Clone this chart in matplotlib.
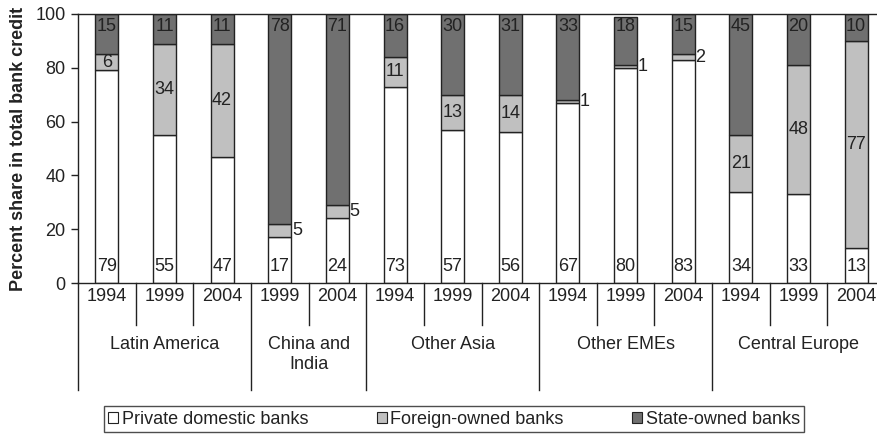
import matplotlib
matplotlib.use('Agg')
import matplotlib.pyplot as plt
import matplotlib.transforms as mtransforms
from matplotlib.patches import Patch
import numpy as np

plt.rcParams['font.family'] = ['Liberation Sans', 'DejaVu Sans']

groups = ['Latin America', 'China and\nIndia', 'Other Asia', 'Other EMEs', 'Central Europe']
group_sizes = [3, 2, 3, 3, 3]
years = ['1994', '1999', '2004', '1999', '2004', '1994', '1999', '2004',
         '1994', '1999', '2004', '1994', '1999', '2004']
private = [79, 55, 47, 17, 24, 73, 57, 56, 67, 80, 83, 34, 33, 13]
foreign = [6, 34, 42, 5, 5, 11, 13, 14, 1, 1, 2, 21, 48, 77]
state = [15, 11, 11, 78, 71, 16, 30, 31, 33, 18, 15, 45, 20, 10]
series_names = ['Private domestic banks', 'Foreign-owned banks', 'State-owned banks']

FS = 13
TXT = '#222222'
EDGE = '#222222'
colors = ['white', '#c0c0c0', '#707070']

fig = plt.figure(figsize=(8.77, 4.34), dpi=100)
ax = fig.add_axes([78/877, 151/434, 807/877, 269/434])

x = np.arange(len(years))
p = np.array(private)
f = np.array(foreign)
s = np.array(state)
w = 0.4
ax.bar(x, p, width=w, color=colors[0], edgecolor=EDGE, linewidth=1, zorder=2)
ax.bar(x, f, width=w, bottom=p, color=colors[1], edgecolor=EDGE, linewidth=1, zorder=2)
ax.bar(x, s, width=w, bottom=p + f, color=colors[2], edgecolor=EDGE, linewidth=1, zorder=2)

for i in range(len(x)):
    ax.text(x[i], 6, str(private[i]), ha='center', va='center', fontsize=FS, color=TXT, zorder=3)
    ax.text(x[i], 95.3, str(state[i]), ha='center', va='center', fontsize=FS, color=TXT, zorder=3)
    mid = p[i] + f[i] / 2
    if foreign[i] >= 6:
        ax.text(x[i], mid, str(foreign[i]), ha='center', va='center', fontsize=FS, color=TXT, zorder=3)
    else:
        ax.text(x[i] + w / 2 + 0.01, mid, str(foreign[i]), ha='left', va='center',
                fontsize=FS, color=TXT, zorder=3)

ax.set_xlim(-0.5, len(x) - 0.5)
ax.set_ylim(0, 100)
ax.set_yticks([0, 20, 40, 60, 80, 100])
ax.set_xticks([])
ax.tick_params(axis='y', direction='out', length=5, width=1, colors=EDGE,
               labelsize=FS, labelcolor=TXT, pad=4)
for sp in ['left', 'bottom', 'top']:
    ax.spines[sp].set_color(EDGE)
    ax.spines[sp].set_linewidth(1)
ax.spines['right'].set_visible(False)
ax.set_ylabel('Percent share in total bank credit', fontsize=FS, fontweight='bold',
              color=TXT, labelpad=6)

trans = mtransforms.blended_transform_factory(ax.transData, ax.transAxes)

# year labels
for i, yr in enumerate(years):
    ax.text(x[i], -0.052, yr, transform=trans, ha='center', va='center',
            fontsize=FS, color=TXT)

# separators
start = 0
for gi, (g, n) in enumerate(zip(groups, group_sizes)):
    left = start - 0.5
    ax.plot([left, left], [0, -0.398], transform=trans, color=EDGE, lw=1, clip_on=False)
    for k in range(1, n):
        xs = start + k - 0.5
        ax.plot([xs, xs], [0, -0.156], transform=trans, color=EDGE, lw=1, clip_on=False)
    cx = start + (n - 1) / 2
    ax.text(cx, -0.197, g, transform=trans, ha='center', va='top', fontsize=FS,
            color=TXT, linespacing=1.25)
    start += n

handles = [Patch(facecolor=c, edgecolor=EDGE, linewidth=0.8) for c in colors]
leg = fig.legend(handles, series_names, loc='center', bbox_to_anchor=(454/877, 1 - 419/434),
                 ncol=3, fontsize=FS, frameon=True, fancybox=False, edgecolor=EDGE,
                 handlelength=0.55, handleheight=0.55, handletextpad=0.2,
                 columnspacing=3.8, borderpad=0.25)
leg.get_frame().set_linewidth(1)
for t in leg.get_texts():
    t.set_color(TXT)

fig.savefig('out.png', dpi=100)
